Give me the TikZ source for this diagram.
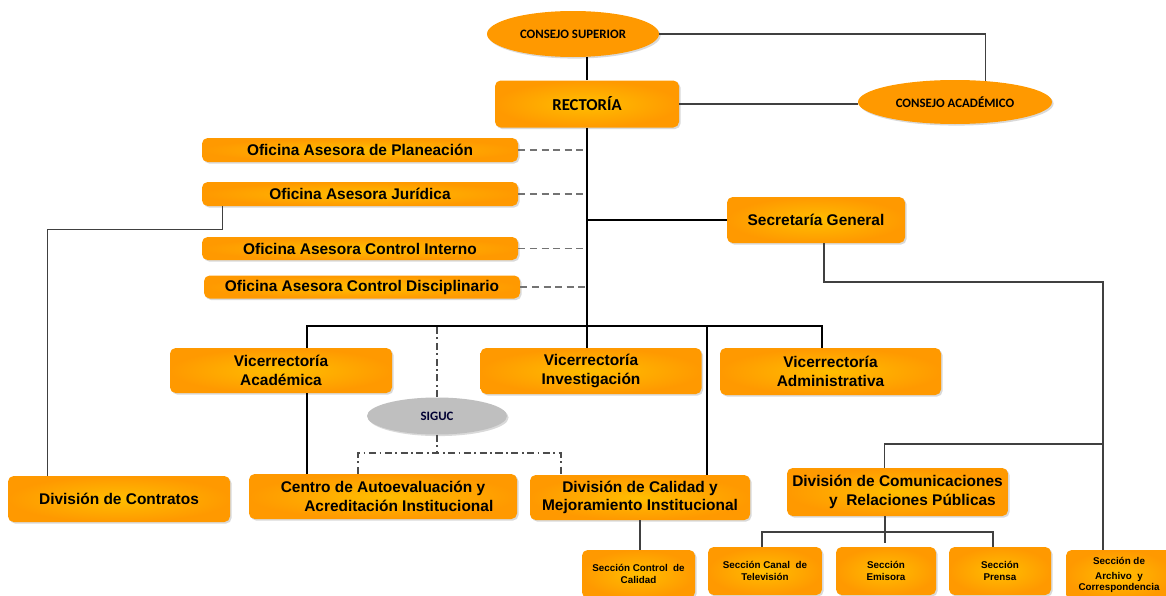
\documentclass[tikz,border=0pt]{standalone}
\usepackage{fontspec}
\setmainfont{Liberation Sans}
\newfontfamily\calib{Carlito}
\usetikzlibrary{shapes.geometric,shadows}
\definecolor{boxor}{RGB}{255,153,0}
\definecolor{glow}{RGB}{255,190,0}
\definecolor{siggray}{RGB}{191,191,191}

\begin{document}
\begin{tikzpicture}[x=0.02cm, y=-0.02cm,
  sz/.style 2 args={minimum width=#1*0.02cm, minimum height=#2*0.02cm},
  shd/.style={drop shadow={opacity=0.3, shadow xshift=0.9pt, shadow yshift=-0.9pt}},
  box/.style={rectangle, rounded corners=3.2pt, shade, inner color=glow, outer color=boxor, shd,
    inner sep=0pt, align=center, font=\bfseries\fontsize{8.8}{10.4}\selectfont},
  sbox/.style={box, font=\bfseries\fontsize{5.6}{6.6}\selectfont},
  ell/.style={ellipse, fill=boxor, shd, inner sep=0pt, font=\calib\bfseries\fontsize{7.3}{8}\selectfont},
  ln/.style={draw=black!75, line width=0.9pt},
  trunk/.style={draw=black, line width=1.3pt},
  dsh/.style={draw=black!55, line width=0.9pt, dash pattern=on 4pt off 2.6pt},
  dd/.style={draw=black!70, line width=0.9pt, dash pattern=on 4pt off 2pt on 1pt off 2pt}]
\useasboundingbox (0,0) rectangle (1166,595);

\node[ell, sz={172}{46}] (sup) at (573,34) {CONSEJO SUPERIOR};
\node[ell, sz={194}{44}] (acad) at (955,102) {CONSEJO ACADÉMICO};
\node[box, sz={184}{47}, font=\calib\bfseries\fontsize{9.5}{11}\selectfont] (rect) at (587,104) {RECTORÍA};

\node[box, sz={316}{24}] (plan) at (360,150) {Oficina Asesora de Planeación};
\node[box, sz={316}{24}] (jur) at (360,194) {Oficina Asesora Jurídica};
\node[box, sz={316}{23}] (cint) at (360,248.5) {Oficina Asesora Control Interno};
\node[box, sz={316}{23}] (cdis) at (362,287) {Oficina Asesora Control Disciplinario};
\node[box, sz={178}{46}] (sec) at (816,220) {Secretaría General};

\node[box, sz={222}{45}] (vac) at (281,370.5) {Vicerrectoría\\Académica};
\node[box, sz={221}{46}] (vinv) at (591,371) {Vicerrectoría\\Investigación};
\node[box, sz={221}{47}] (vadm) at (830.5,371.5) {Vicerrectoría\\Administrativa};
\node[ellipse, fill=siggray, shd, inner sep=0pt, sz={140}{37},
  font=\calib\bfseries\fontsize{7.3}{8}\selectfont, text=black!80!blue] (siguc) at (437,416) {SIGUC};

\node[box, sz={222}{46}] (contr) at (119,499) {División de Contratos};
\node[box, sz={268}{45}] (centro) at (383,496.5) {Centro de Autoevaluación y\\\hspace*{18pt}Acreditación Institucional};
\node[box, sz={220}{45}] (dcal) at (640,497.5) {División de Calidad y\\Mejoramiento Institucional};
\node[box, sz={221}{48}] (dcom) at (897.5,492) {División de Comunicaciones\\\hspace*{17pt}y~ Relaciones Públicas};

\node[sbox, sz={113}{48}] (scc) at (638.5,574) {Sección Control~ de\\Calidad};
\node[sbox, sz={114}{48}] (sctv) at (765,571) {Sección Canal~ de\\Televisión};
\node[sbox, sz={100}{48}] (semi) at (886,571) {Sección\\Emisora};
\node[sbox, sz={102}{48}] (spre) at (1000,571) {Sección\\Prensa};
\node[sbox, sz={106}{50}] (sarc) at (1119,575) {Sección de\\[2pt]Archivo~ y\\Correspondencia};

\coordinate (busL) at (307,326);
\coordinate (busR) at (822,326);
\coordinate (sgL) at (358,453);
\coordinate (sgR) at (561,453);
\coordinate (sj) at (1103,282);
\coordinate (cbL) at (762,532);
\coordinate (cbR) at (993,532);
\coordinate (vdc) at (707,475);

\path
  (rect.north) edge[ln, draw=black] (rect.north |- sup.south)
  (rect.east) edge[ln] (rect.east -| acad.west)
  (plan.east) edge[dsh] (plan.east -| rect.south)
  (jur.east) edge[dsh] (jur.east -| rect.south)
  (cint.east) edge[dsh] (cint.east -| rect.south)
  (cdis.east) edge[dsh] (cdis.east -| rect.south)
  (sec.west) edge[trunk] (sec.west -| rect.south)
  (busL |- vac.south) edge[ln, draw=black] (busL |- centro.north)
  (vdc |- busL) edge[ln, draw=black] (vdc)
  (dcal.south) edge[ln] (dcal.south |- scc.north)
  (siguc.south) edge[dd] (siguc.south |- sgL)
  (siguc.north) edge[dd] (siguc.north |- busL)
;
\draw[ln] (sup.east) -| (acad.35);
\draw[trunk] (rect.south) -- (rect.south |- busL);
\draw[trunk] (busL |- vac.north) -- (busL) -- (busR) -- (busR |- vadm.north);
\draw[trunk] (rect.south |- busL) -- (rect.south |- vinv.north);
\draw[ln] ([xshift=0.42cm]jur.south west) -- ++(0,23) -| ([xshift=0.8cm]contr.north west);
\draw[dd] (sgL |- centro.north) -- (sgL) -- (sgR) -- (sgR |- dcal.north);
\draw[ln] ([xshift=0.16cm]sec.south) |- (sj) -- (sj |- sarc.north);
\draw[ln] (sj |- 0,444) -| ([xshift=-0.26cm]dcom.north);
\draw[ln] ([xshift=-0.25cm]dcom.south) -- ++(0,27);
\draw[ln] (cbL |- sctv.north) -- (cbL) -- (cbR) -- (cbR |- spre.north);
\end{tikzpicture}
\end{document}
